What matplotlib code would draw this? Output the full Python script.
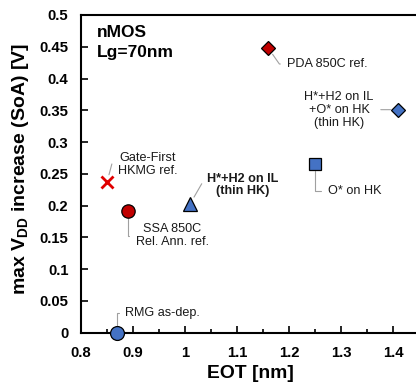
import matplotlib
matplotlib.use("Agg")
import matplotlib.pyplot as plt
from matplotlib.ticker import MultipleLocator, FixedLocator

plt.rcParams['font.family'] = ['Liberation Sans', 'DejaVu Sans']
plt.rcParams['mathtext.fontset'] = 'custom'
plt.rcParams['mathtext.bf'] = 'Liberation Sans:bold'
plt.rcParams['mathtext.rm'] = 'Liberation Sans:bold'
plt.rcParams['mathtext.default'] = 'bf'

# data
labels = ["RMG as-dep.", "SSA 850C\nRel. Ann. ref.", "Gate-First\nHKMG ref.",
          "H*+H2 on IL\n(thin HK)", "PDA 850C ref.",
          "H*+H2 on IL\n+O* on HK\n(thin HK)", "O* on HK"]
eot = [0.87, 0.89, 0.85, 1.01, 1.16, 1.41, 1.25]
vdd = [0.0, 0.192, 0.237, 0.203, 0.448, 0.351, 0.266]
xticks = [0.8, 0.9, 1.0, 1.1, 1.2, 1.3, 1.4]
xticklabels = ['0.8', '0.9', '1', '1.1', '1.2', '1.3', '1.4']
yticks = [0, 0.05, 0.1, 0.15, 0.2, 0.25, 0.3, 0.35, 0.4, 0.45, 0.5]
yticklabels = ['0', '0.05', '0.1', '0.15', '0.2', '0.25', '0.3', '0.35', '0.4', '0.45', '0.5']

markers = ['o', 'o', 'x', '^', 'D', 'D', 's']
colors = ['#4472C4', '#C00000', '#E00000', '#4472C4', '#C00000', '#4472C4', '#4472C4']
sizes = [10, 9.6, 9, 9.8, 7.2, 7.2, 8.8]
# text offsets (points), alignment, connection style
offsets = [(5.8, 14.4), (32, -18), (29.5, 12.5), (37.5, 13.5), (13.7, -11.5), (-42.5, 0), (9.4, -20)]
has = ['left', 'center', 'center', 'center', 'left', 'center', 'left']
relpos = [(0, 0.5), (0, 0.5), (0, 0.62), (0, 0.7), (0, 0.5), (1, 0.5), (0, 0.5)]
conns = ['angle,angleA=0,angleB=90,rad=0', 'angle,angleA=0,angleB=90,rad=0',
         'angle,angleA=0,angleB=75,rad=0', 'angle,angleA=0,angleB=60,rad=0',
         'angle,angleA=0,angleB=125,rad=0', 'arc3,rad=0', 'angle,angleA=0,angleB=90,rad=0']
bold = [False, False, False, True, False, False, False]

fig = plt.figure(figsize=(4.16, 3.83), dpi=100)
ax = fig.add_axes([81/416, (383-332.7)/383, 338/416, (332.7-15)/383])

for i in range(len(eot)):
    if markers[i] == 'x':
        ax.plot(eot[i], vdd[i], marker='x', ms=sizes[i], mew=2, color=colors[i],
                linestyle='none', zorder=5, clip_on=False)
    else:
        ax.plot(eot[i], vdd[i], marker=markers[i], ms=sizes[i], mfc=colors[i],
                mec='black', mew=0.9, linestyle='none', zorder=5, clip_on=False)
    ax.annotate(labels[i], xy=(eot[i], vdd[i]), xytext=offsets[i],
                textcoords='offset points', ha=has[i],
                va='center', multialignment='center', fontsize=9.1,
                fontweight='bold' if bold[i] else 'normal', color='#1a1a1a',
                linespacing=1.1,
                arrowprops=dict(arrowstyle='-', color='#A0A0A0', lw=0.8,
                                shrinkA=3, shrinkB=5.5, relpos=relpos[i],
                                connectionstyle=conns[i]))

ax.text(0.047, 0.97, "nMOS\nLg=70nm", transform=ax.transAxes, ha='left', va='top',
        fontsize=12.5, fontweight='bold', linespacing=1.42)

ax.set_xlim(0.8, 1.45)
ax.set_ylim(0, 0.5)
ax.xaxis.set_major_locator(FixedLocator(xticks))
ax.xaxis.set_minor_locator(MultipleLocator(0.05))
ax.yaxis.set_major_locator(FixedLocator(yticks))
ax.set_xticklabels(xticklabels)
ax.set_yticklabels(yticklabels)
ax.tick_params(axis='both', which='major', direction='in', length=5, width=1.2,
               labelsize=10.7)
ax.tick_params(axis='x', which='major', pad=9.4)
ax.tick_params(axis='y', which='major', pad=9)
ax.tick_params(axis='x', which='minor', direction='in', length=3, width=1.2)
for lab in ax.get_xticklabels() + ax.get_yticklabels():
    lab.set_fontweight('bold')

for s in ['left', 'bottom', 'top']:
    ax.spines[s].set_linewidth(1.5)
ax.spines['right'].set_visible(False)

ax.set_xlabel("EOT [nm]", fontsize=13.9, fontweight='bold', va='center')
ax.xaxis.set_label_coords(0.5, -0.127)
ax.set_ylabel(r"max V$_{DD}$ increase (SoA) [V]", fontsize=14, fontweight='bold', va='center')
ax.yaxis.set_label_coords(-0.178, 0.515)

fig.savefig("out.png", dpi=100)
